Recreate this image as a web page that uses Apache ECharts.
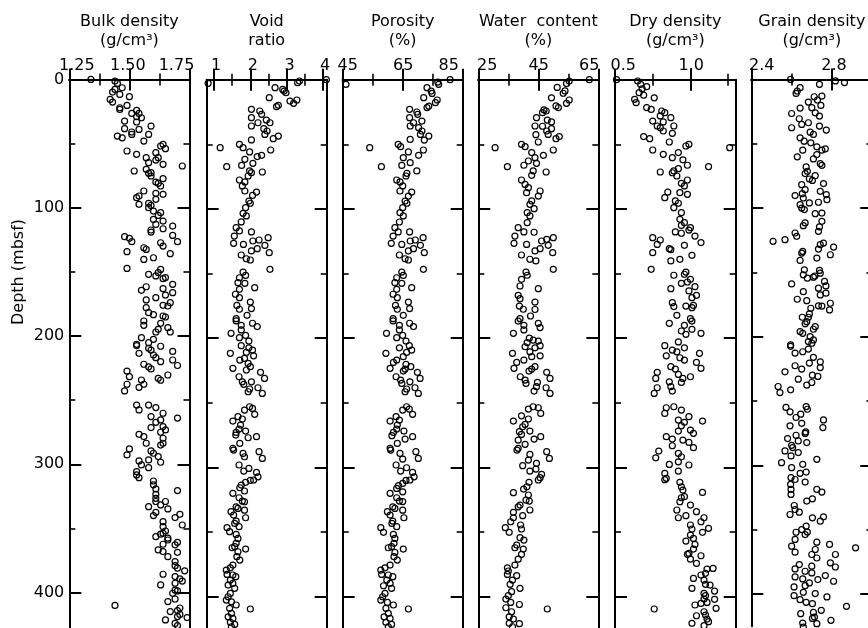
<!DOCTYPE html>
<html>
<head>
<meta charset="utf-8">
<script src="https://cdn.jsdelivr.net/npm/echarts@6/dist/echarts.min.js"></script>
<style>
  html, body { margin: 0; padding: 0; background: #fff; }
  #chart { width: 868px; height: 628px; }
</style>
</head>
<body>
<div id="chart"></div>
<script>
// Each sample: [value, depth (mbsf)]
const bulkDensity = [
  [1.34,0],[1.44,1.3],[1.45,3.1],[1.47,6.5],[1.44,7.8],[1.43,9.9],[1.46,11.7],[1.50,13.5],[1.42,15.6],[1.43,17.7],[1.49,20.3],[1.46,22.1],[1.46,23.4],[1.53,24.2],[1.51,26.5],[1.54,26.5],[1.53,29.1],[1.55,29.9],[1.48,32.5],[1.53,33.2],[1.59,36.4],[1.48,38.4],[1.54,39],[1.51,41],[1.51,42.9],[1.58,42.9],[1.45,44.2],[1.47,45.5],[1.56,48.1],[1.64,50.6],[1.63,51.9],[1.65,54],[1.49,55.8],[1.61,57.1],[1.53,58.4],[1.57,61],[1.62,61],[1.61,62.9],[1.58,64.9],[1.64,66.2],[1.72,67.5],[1.57,70.1],[1.52,71.4],[1.59,72.7],[1.58,73.2],[1.59,75.3],[1.64,77.4],[1.61,80],[1.62,81],[1.63,83.1],[1.56,87],[1.61,88.8],[1.64,89.6],[1.54,90.9],[1.53,92.2],[1.61,93.5],[1.58,96.6],[1.54,97.4],[1.59,98.2],[1.58,100],[1.60,102.6],[1.63,103.9],[1.62,106],[1.60,109.1],[1.64,110.4],[1.61,113],[1.68,114.3],[1.64,116.4],[1.59,117.4],[1.59,119],[1.68,121.6],[1.48,122.6],[1.50,123.9],[1.51,126.5],[1.70,126.5],[1.63,127.3],[1.64,129.9],[1.56,131.2],[1.57,132.5],[1.49,134.3],[1.67,135.8],[1.60,139],[1.56,140.3],[1.49,147.3],[1.63,148.1],[1.62,150.6],[1.58,151.9],[1.61,153.2],[1.65,154.5],[1.64,155.3],[1.68,159.7],[1.57,161.6],[1.64,163.1],[1.55,164.4],[1.68,166.2],[1.65,168.1],[1.61,170.1],[1.57,171.9],[1.67,174],[1.64,176.1],[1.66,176.6],[1.57,177.9],[1.58,181.8],[1.60,183.4],[1.64,184.4],[1.65,185.2],[1.56,188.3],[1.63,190.1],[1.56,191.7],[1.66,193.5],[1.62,194.8],[1.61,196.9],[1.67,196.9],[1.55,201.3],[1.60,202.6],[1.58,205.2],[1.53,206.5],
  [1.53,207.5],[1.58,209.6],[1.59,211],[1.63,208],[1.68,212],[1.54,213.5],[1.60,214.8],[1.61,216.9],[1.63,220],[1.56,222],[1.58,224],[1.59,225.7],[1.68,218.7],[1.70,223],[1.49,227.3],[1.50,231.7],[1.55,234.3],[1.56,237.6],[1.54,240],[1.49,237.6],[1.48,242.8],[1.62,233],[1.63,234.5],[1.66,230.4],[1.53,253.8],[1.54,257.6],[1.58,253.8],[1.61,255.8],[1.64,260.2],[1.59,262.8],[1.70,264],[1.61,267.3],[1.63,265.4],[1.59,271.4],[1.64,270.6],[1.65,273.2],[1.63,275],[1.54,276.6],[1.56,278.4],[1.64,279.7],[1.64,283.6],[1.63,285],[1.57,283.6],[1.50,288],[1.49,292.7],[1.59,289.6],[1.60,291.4],[1.62,294],[1.58,296.6],[1.63,298.4],[1.54,297.4],[1.55,300.5],[1.58,302.6],[1.53,305.7],[1.53,308.3],[1.54,310.4],[1.60,313],[1.60,316],[1.61,319.2],[1.70,320.5],[1.61,323.4],[1.61,326.5],[1.61,329],[1.65,329],[1.63,331.7],[1.58,333],[1.66,334.8],[1.60,340],[1.61,337.4],[1.69,341.5],[1.71,339],[1.72,347.3],[1.64,344.7],[1.64,348.6],[1.65,352],[1.64,353.8],[1.63,354.5],[1.61,356.4],[1.66,359],[1.66,357.6],[1.70,360.8],[1.69,362.8],[1.64,362.3],[1.62,366.7],[1.64,368],[1.70,368.6],[1.66,372],[1.69,375.8],[1.69,379],[1.70,381],[1.73,383],[1.64,385.7],[1.69,387.5],[1.71,389.3],[1.72,391],[1.63,394],[1.69,392.7],[1.69,398],[1.68,400.5],[1.70,398.7],[1.69,405],[1.44,410],[1.66,407],[1.71,412],[1.70,414],[1.67,414.8],[1.71,417],[1.65,421.3],[1.70,418.7],[1.74,419.5],[1.69,424],[1.70,425.7]
];

const voidRatio = [
  [0.84,2.8],[4.09,0],[3.35,1],[3.30,2.3],[2.68,6.2],[2.89,7.5],[2.93,8.8],[2.98,10.1],[2.52,13.9],[3.28,15.7],[3.09,16.5],[3.19,18.3],[2.77,19.8],[2.72,20.9],[2.03,22.9],[2.26,24.2],[2.31,26.8],[2.03,29.4],[2.44,31.2],[2.21,33.3],[2.54,33.3],[2.03,35.8],[2.37,37.9],[2.46,39.7],[2.40,42.3],[2.77,43.6],[2.63,45.6],[2.03,46.6],[1.70,50],[1.80,52.6],[1.17,52.6],[2.56,54.4],[1.98,55.9],[2.31,58.5],[2.19,59.5],[1.85,61.6],[2.07,64.7],[1.76,66.3],[1.35,67.3],[1.98,70.6],[2.33,71.4],[2.03,71.9],[1.94,74.5],[1.70,77.6],[1.85,79.1],[1.78,82.2],[1.85,86.1],[2.17,86.9],[2.06,89.5],[1.96,93.9],[2.00,95.6],[1.87,99],[1.80,103.4],[1.89,105.4],[1.75,110],[1.61,114.5],[1.70,117],[2.03,117.8],[1.56,121],[2.49,122.2],[2.24,124],[2.07,124.8],[1.54,126.6],[1.81,127.4],[2.40,128.2],[2.19,130.7],[2.03,132.5],[2.52,133.8],[1.75,135.6],[1.89,138.5],[2.00,139.5],[2.54,146.7],[1.80,148.8],[1.87,151.4],[1.70,153.2],[1.66,157],[1.85,157.5],[2.12,160.9],[1.70,162.2],[1.59,166],[1.70,168.6],[2.00,172],[1.63,174.6],[2.03,177.1],[1.70,177.6],[1.91,182.3],[1.61,184.9],[1.61,186.6],[2.06,188.4],[1.75,190],[2.19,191],[1.75,193.6],[1.47,196.2],[1.87,197.8],[1.70,199.6],[1.96,202.2],
  [1.75,205.8],[1.96,207.4],[2.06,209.2],[1.45,211.7],[1.89,211],[2.09,213.6],[1.71,216.9],[1.84,215.6],[1.94,219.5],[1.52,223.3],[1.89,224.6],[2.00,222],[2.28,226.4],[2.39,231.1],[1.69,229.8],[1.78,233.7],[1.82,235.7],[2.03,233.7],[2.21,238.3],[1.98,239.3],[1.94,241.4],[2.33,242.7],[1.98,253],[2.06,254.3],[2.12,258.9],[1.84,255.6],[1.52,264.1],[1.66,260.7],[1.78,262.5],[1.73,267.2],[1.61,272.9],[1.60,274.9],[1.87,271.8],[1.69,270.3],[1.94,277],[2.17,276.2],[1.71,281.4],[1.52,285.2],[1.54,286.5],[1.80,289.1],[2.24,287.8],[2.33,293],[1.84,291.7],[1.69,298.1],[1.82,302.8],[1.96,300.7],[2.17,303.8],[2.21,307.2],[2.09,309.7],[2.00,309.9],[1.87,311.5],[1.75,313.6],[1.71,315.7],[1.84,318.2],[1.52,320],[1.69,323.4],[1.78,326],[1.84,326.5],[1.61,330.4],[1.66,331.7],[1.47,334.2],[1.54,336.8],[1.84,333],[1.87,338.9],[1.61,341.5],[1.57,343.3],[1.36,346.6],[1.43,349.7],[1.69,345.8],[1.61,351.8],[1.66,354.9],[1.61,358.7],[1.57,361.3],[1.50,362.1],[1.87,363.1],[1.66,365.2],[1.63,369],[1.71,371.6],[1.52,375.5],[1.45,377.6],[1.34,379.4],[1.36,382.7],[1.52,383.2],[1.60,384.5],[1.45,387.1],[1.52,389.7],[1.39,391],[1.57,393.5],[1.45,397.4],[1.39,400],[1.34,402.6],[1.48,403.9],[1.61,406.4],[2.00,409.5],[1.43,409],[1.48,412.9],[1.39,415.5],[1.52,416.8],[1.45,419.8],[1.57,421.4],[1.48,423.2]
];

const porosity = [
  [46.1,3.6],[80.8,0],[76.7,1.8],[77.0,3.6],[73.1,6.2],[74.5,8.8],[74.8,10.6],[72.0,13.9],[76.5,15.7],[75.9,17.8],[73.7,20.4],[73.1,21.6],[67.3,22.9],[69.7,25],[70.0,26.8],[67.3,29.4],[71.4,32],[68.6,33.3],[67.5,35.8],[70.3,37.1],[71.4,39.7],[70.9,42.3],[73.7,43.6],[67.5,46.2],[72.2,46.7],[63.5,50],[64.3,51.8],[54.0,52.6],[71.9,54.4],[66.9,55.9],[70.3,58.5],[65.2,60.3],[67.5,64.2],[64.7,66.3],[57.9,67.3],[69.7,70.6],[66.4,72.4],[66.1,74.5],[63.0,77.6],[64.1,79.1],[65.0,82.2],[64.1,86.1],[68.0,86.9],[66.9,90],[65.8,93.9],[66.4,95.6],[65.0,99],[64.1,102.9],[65.2,105.4],[63.9,110.1],[62.4,114.5],[63.5,117.8],[67.3,117.8],[61.8,121],[71.8,122.2],[69.2,124],[67.5,124.8],[61.2,126.6],[64.7,127.4],[70.9,128.1],[68.6,130.7],[66.9,132.5],[72.2,133.8],[63.9,135.6],[65.8,138.5],[66.9,139.5],[71.9,146.7],[64.7,148.8],[65.2,151.4],[63.0,153.2],[62.4,157],[64.7,157.5],[68.0,160.9],[63.0,162.2],[61.8,166],[63.2,168.6],[66.9,172],[62.6,174.6],[67.3,177.1],[63.2,177.6],[65.2,182.3],[61.8,184.9],[61.8,186.6],[67.3,188.4],[63.9,190],[68.6,191],[63.9,193.6],[59.6,196.2],[65.0,197.8],[63.0,199.6],[66.1,202.2],
  [63.9,207.4],[67.2,205.8],[68.0,209.2],[59.4,211.7],[65.2,214.3],[66.3,211],[63.0,216.9],[61.9,218.7],[66.1,220.3],[60.8,223.3],[65.8,223.9],[67.7,222],[65.2,225.4],[69.9,226.4],[70.8,231.1],[62.8,229.8],[64.3,232.4],[64.7,235],[67.4,233.7],[69.1,238.3],[66.3,239.3],[65.8,241.4],[70.2,242.7],[66.3,253],[67.2,254.8],[68.3,258.9],[65.0,255.6],[60.8,264.1],[62.8,260.7],[63.9,263.3],[63.2,267.2],[61.9,272.9],[61.4,275.4],[65.4,271.8],[63.0,270.3],[65.8,278],[68.3,276.2],[63.2,281.4],[60.8,285.2],[61.0,286.5],[64.1,289.1],[69.4,287.8],[70.2,293],[65.0,293.5],[62.8,298.1],[64.3,302.8],[66.3,300.2],[68.3,303.8],[68.8,307.2],[67.4,309.7],[66.1,310],[65.0,312.3],[63.6,314.1],[63.0,316.2],[65.0,318.8],[60.8,320],[63.0,323.4],[63.9,326],[65.0,326.4],[61.7,330.4],[62.4,331.7],[59.9,334.2],[60.8,336.8],[65.0,333],[65.4,338.9],[61.7,341.5],[61.4,343.3],[57.7,346.6],[58.6,350.2],[63.0,345.8],[61.9,351.8],[62.4,354.9],[62.1,358.7],[61.3,361.3],[60.2,362.1],[65.2,363.1],[62.4,365.7],[62.1,369],[63.2,371.6],[60.8,375.5],[59.1,377.6],[57.7,379.4],[58.0,382.7],[60.2,383.2],[61.7,384.5],[59.7,387.1],[60.8,389.7],[58.6,391.5],[61.3,393.5],[59.1,397.4],[58.3,400],[57.7,402.6],[59.9,404.4],[61.9,406.4],[66.9,409.5],[59.4,409],[60.2,412.9],[58.8,415.5],[60.8,416.8],[59.4,419.8],[61.3,421.4],[60.2,423.2]
];

const waterContent = [
  [62.0,0],[55.3,1],[54.4,3],[51.3,6],[53.9,8.7],[53.3,10.5],[49.4,14],[55.3,15.7],[54.4,18.3],[50.9,20.3],[51.7,21.6],[46.9,23.4],[47.6,24.2],[46.4,25.5],[44.4,29.4],[48.0,31.2],[49.4,32.7],[43.9,35.8],[46.4,36],[49.4,37.9],[47.8,39.7],[48.3,42.3],[44.2,42.5],[52.0,44],[50.9,45.6],[45.0,48.2],[39.4,50],[40.6,51.8],[30.6,52.6],[50.0,54.4],[42.8,56.4],[46.7,58.5],[43.9,60.3],[41.7,62.9],[44.4,64.7],[40.2,66.2],[34.7,67.3],[43.3,70.6],[47.6,71.4],[42.8,74],[39.4,77.6],[40.6,81],[41.7,83.5],[45.6,86.1],[41.1,87.4],[45.0,90],[42.8,93.8],[42.2,96.4],[43.6,99.8],[41.3,102.9],[42.2,105.4],[41.3,110.6],[38.3,114.5],[40.2,117.8],[43.6,118],[37.2,121],[50.0,122.2],[47.8,123.5],[46.1,124.8],[36.9,126.6],[41.1,127.4],[48.3,128.1],[45.6,130.7],[43.9,132.5],[49.8,133.8],[39.4,135.6],[42.2,138.9],[44.2,140.2],[50.0,146.7],[40.9,148.8],[41.3,151.3],[39.4,154.4],[38.9,159.6],[45.0,161.7],[38.3,166.8],[38.9,169.4],[43.9,172],[38.7,175.1],[40.0,177.6],[43.9,177.8],[42.4,182.8],[38.9,184.9],[38.3,186.7],[45.0,188.5],[40.2,190],[45.6,191.8],[40.2,193.6],[36.7,196.2],[42.0,200],[43.3,201.4],[45.0,202.2],[41.3,203.4],
  [40.6,206.6],[43.9,207.4],[45.6,205.8],[36.4,211.7],[42.2,210.5],[42.8,214.3],[45.6,213.6],[40.2,216.9],[37.8,218.7],[36.9,223.3],[42.8,223.9],[43.9,222],[41.9,225.4],[47.8,226.4],[39.0,229.8],[48.9,231.1],[40.6,232.4],[44.7,234.2],[40.9,235],[44.4,237.5],[47.6,238.3],[43.6,240.9],[48.9,242.7],[43.3,253],[41.7,254.8],[45.0,253.8],[45.8,258.2],[39.4,260],[41.7,262.5],[36.7,264.1],[40.6,266.7],[39.8,268.5],[42.2,271.8],[38.7,272.3],[39.4,274.4],[45.8,276.2],[43.6,278],[38.3,278.8],[40.6,282.1],[38.3,285.2],[37.9,286.5],[47.8,287.8],[42.2,289.9],[48.7,293],[41.7,294.3],[44.4,296.8],[39.8,298.6],[44.2,301.2],[42.2,302.8],[46.1,305.3],[45.6,307.9],[45.0,309.7],[41.9,311.5],[41.2,314.9],[40.1,316.7],[36.7,319.5],[41.7,321.3],[40.9,325.2],[42.0,326],[38.9,329.1],[38.3,330.4],[42.2,332.9],[36.7,334.7],[39.8,337.3],[36.7,338.9],[35.8,342],[39.1,344.5],[34.0,346.6],[39.4,347.6],[35.3,350.2],[38.9,354.3],[40.2,356.2],[37.8,360],[37.2,362.1],[40.0,363.1],[39.4,367.2],[38.3,370.9],[37.2,375.5],[34.7,377.6],[35.0,380.1],[34.7,382.7],[37.8,383.7],[36.4,387.1],[35.6,390.4],[38.9,393.5],[36.1,396.1],[35.0,399.2],[34.2,401.8],[35.8,404.4],[38.7,406],[34.2,408.5],[48.0,409.5],[36.1,411.6],[35.3,415.5],[36.7,417.3],[35.3,420.6],[38.7,420.8],[36.4,423.2]
];

const dryDensity = [
  [0.51,0],[0.65,1],[0.67,3.6],[0.71,5.4],[0.68,7],[0.66,10],[0.69,12],[0.76,14],[0.63,15.2],[0.64,17.8],[0.71,21.6],[0.74,23],[0.81,24.2],[0.83,25.5],[0.80,28],[0.87,29.4],[0.75,32],[0.82,32.7],[0.78,35.8],[0.89,35.8],[0.80,37.1],[0.82,39.7],[0.88,41.5],[0.69,44],[0.73,45.6],[0.86,48.2],[0.99,50],[0.97,51.3],[1.26,52.6],[0.75,54.4],[0.92,56.4],[0.82,57.7],[0.88,60.3],[0.95,62],[0.98,66.2],[1.12,67.3],[0.92,68.8],[0.89,70.6],[0.80,71.4],[0.88,72],[0.91,74.5],[0.98,77.6],[0.94,80.2],[0.96,82.2],[0.85,86.9],[0.93,87.4],[0.98,88.7],[0.83,91.3],[0.90,93.8],[0.92,95.6],[0.89,99],[0.94,102.9],[0.93,108],[0.96,110.6],[0.94,112.7],[1.00,114.5],[0.99,116.3],[0.90,117.8],[0.94,118.8],[1.03,121],[0.75,122.2],[0.80,124],[1.07,126],[0.78,127.4],[0.96,128.1],[0.86,130.7],[0.87,131.5],[0.75,133.8],[1.01,135.9],[0.93,139],[0.87,140.2],[0.74,146.7],[0.97,148.8],[0.96,150.5],[0.89,151.3],[1.00,154.4],[0.98,156.5],[0.94,157.5],[1.03,160.1],[0.87,161.7],[0.99,163.4],[1.04,166.8],[1.01,168.6],[0.88,172.5],[1.02,174.6],[0.97,175.1],[0.89,175.5],[1.01,176.4],[0.91,182.3],[1.00,184.9],[1.01,186.7],[0.86,188.5],[0.96,190],[1.01,193.1],[0.94,194.4],[1.07,196.2],[0.97,197],[0.92,202.9],
  [0.83,205.8],[0.88,209.2],[0.91,210.5],[0.96,207.4],[1.06,211.7],[0.84,213.6],[0.93,215.1],[0.96,216.9],[1.04,218.7],[1.07,223.3],[0.87,222],[0.90,223.9],[0.92,228],[0.78,226.4],[0.77,231.1],[0.95,231.1],[1.00,229.8],[0.86,233.7],[0.87,237.5],[0.88,240.9],[0.78,238.3],[0.76,242.7],[0.94,234.2],[0.84,253.8],[0.89,253],[0.94,255.6],[0.83,258.2],[0.99,260.7],[0.92,263.3],[1.08,264.1],[0.96,265.1],[0.94,267.7],[1.00,271.1],[0.92,271.8],[1.02,273.6],[0.84,276.2],[0.88,278],[0.95,278.8],[0.99,280.6],[0.88,283.2],[1.02,284.7],[0.79,287.3],[0.77,292.5],[0.92,289.1],[0.94,291.7],[0.92,295.6],[0.99,298.1],[0.86,297.6],[0.92,302.8],[0.83,304.6],[0.84,308.4],[0.83,309.5],[0.93,311.5],[0.94,314.9],[0.95,317.5],[1.08,319.3],[0.94,323.4],[0.96,322.6],[0.93,326.5],[1.00,329.1],[0.91,332.9],[0.97,337.3],[0.92,338.9],[1.04,334.2],[1.09,338.9],[1.07,342],[1.12,347.1],[1.08,350.2],[1.00,344.5],[1.01,347.6],[1.00,352.3],[1.02,354.9],[0.97,356.9],[1.03,359.5],[1.02,363.1],[1.07,368.3],[0.98,367.2],[1.00,370.9],[0.99,366.5],[1.04,374.2],[1.11,378.6],[1.15,378.1],[1.10,381.9],[1.02,385.8],[1.07,383.2],[1.09,387.1],[1.10,390.4],[1.13,391],[1.01,393.5],[1.16,395.6],[1.09,397.4],[1.10,399.2],[1.09,401.8],[1.16,402],[1.11,404.4],[1.07,405.2],[1.03,406.4],[1.17,409],[0.76,409.5],[1.09,411.6],[1.10,414.2],[1.04,414.7],[1.11,417.3],[1.12,419.3],[1.01,420.6],[1.09,422.4]
];

const grainDensity = [
  [2.595,0],[2.738,3.8],[2.817,1.2],[2.862,2.5],[2.642,6.4],[2.628,9],[2.622,10.9],[2.712,13.5],[2.750,13],[2.728,16],[2.745,20.2],[2.683,17.6],[2.700,22],[2.642,22.3],[2.600,26.5],[2.717,26],[2.738,28.5],[2.638,30.6],[2.650,35],[2.683,33.7],[2.738,36.3],[2.600,37.6],[2.772,39.4],[2.692,41],[2.708,42.8],[2.642,45.4],[2.662,48],[2.695,49.3],[2.725,52.4],[2.767,54],[2.750,55],[2.655,55],[2.628,60.2],[2.725,58.4],[2.708,61.8],[2.742,65.4],[2.750,66.8],[2.672,68],[2.678,71.4],[2.667,73.2],[2.717,74.8],[2.688,77.4],[2.703,78.5],[2.758,81],[2.650,81.8],[2.667,85.7],[2.742,87],[2.617,90.3],[2.653,88.8],[2.658,92.2],[2.772,89.5],[2.775,93.5],[2.733,95.5],[2.688,96],[2.642,97.4],[2.650,100],[2.663,101.2],[2.717,104.4],[2.750,103.9],[2.667,111.6],[2.658,113.7],[2.750,110.3],[2.738,114.7],[2.733,118.1],[2.617,119.4],[2.625,122],[2.508,125.9],[2.567,124.6],[2.758,127.2],[2.808,130.3],[2.742,128.5],[2.733,131.9],[2.792,136.3],[2.725,138.9],[2.655,133.7],[2.650,135],[2.642,140.7],[2.663,148],[2.658,151.9],[2.738,148.5],[2.742,150.6],[2.678,154.5],[2.708,153.7],[2.715,152.8],[2.600,159],[2.763,157],[2.770,160.5],[2.733,162.3],[2.742,167.5],[2.658,165],[2.770,166.2],[2.628,170.9],[2.675,172],[2.733,176],[2.750,176.2],[2.792,174],[2.788,179.2],[2.695,177.9],[2.688,182.3],[2.683,184.9],[2.653,184.9],[2.675,188.3],[2.667,190],[2.717,192.2],[2.708,194.2],[2.642,196],[2.655,197.4],[2.692,200],[2.683,203.8],[2.708,202.5],[2.595,206.4],[2.700,205.1],
  [2.595,207.5],[2.683,209.6],[2.655,211.7],[2.617,212.7],[2.708,216],[2.742,219.5],[2.742,224],[2.688,220.5],[2.617,222.6],[2.650,225.2],[2.567,227.3],[2.633,233],[2.703,229.9],[2.730,230.9],[2.700,235.6],[2.675,237.6],[2.533,238.7],[2.542,243.4],[2.595,241.3],[2.572,255],[2.672,254.3],[2.678,256.4],[2.592,258.4],[2.645,260.2],[2.622,262.8],[2.758,264.7],[2.755,270.6],[2.650,267.3],[2.592,269.3],[2.670,274],[2.667,275.2],[2.622,276.6],[2.580,279.2],[2.633,281],[2.675,282.3],[2.600,284.4],[2.605,286.2],[2.567,288.8],[2.633,290.1],[2.597,292.7],[2.725,295.3],[2.550,297.9],[2.655,299.2],[2.600,301.8],[2.597,309.6],[2.642,306.2],[2.672,305.2],[2.667,313],[2.595,314.8],[2.617,311],[2.597,318.7],[2.597,322.6],[2.725,318.7],[2.750,320.8],[2.675,327.8],[2.703,326],[2.613,331.2],[2.617,334.3],[2.638,336.4],[2.592,338.2],[2.703,340.8],[2.742,343.4],[2.758,340],[2.672,347.3],[2.650,349.9],[2.678,351.9],[2.622,352],[2.667,353.8],[2.617,357.6],[2.725,359.7],[2.788,361.5],[2.917,364.1],[2.600,362.8],[2.617,367.5],[2.717,365.4],[2.700,369.3],[2.725,372],[2.817,369.3],[2.792,375.8],[2.817,379],[2.638,377.1],[2.617,380.5],[2.700,378.4],[2.667,382.3],[2.700,383.6],[2.617,386.7],[2.655,388.3],[2.767,385.7],[2.730,388.8],[2.688,391.4],[2.808,390.1],[2.612,394.5],[2.667,393.5],[2.658,398.7],[2.612,401.3],[2.642,404.4],[2.717,399.7],[2.775,402.3],[2.672,406.5],[2.703,407.5],[2.872,409.6],[2.747,412.7],[2.645,415.3],[2.708,414.3],[2.713,417.9],[2.703,419],[2.795,420.5],[2.655,422.6],[2.725,423.1],[2.658,425.7]
];

// Axis tick values and tick labels
const depthMajor = [0, 100, 200, 300, 400];
const depthMinor = [50, 150, 250, 350];
const depthLabels = ['0', '100', '200', '300', '400'];

const bulkMajor = [1.25, 1.5, 1.75], bulkMinor = [1.375, 1.625], bulkLabels = ['1.25', '1.50', '1.75'];
const voidMajor = [1, 2, 3, 4], voidMinor = [1.5, 2.5, 3.5], voidLabels = ['1', '2', '3', '4'];
const poroMajor = [45, 65, 85], poroMinor = [55, 75], poroLabels = ['45', '65', '85'];
const waterMajor = [25, 45, 65], waterMinor = [35, 55], waterLabels = ['25', '45', '65'];
const dryMajor = [0.5, 1.0], dryMinor = [0.75, 1.25], dryLabels = ['0.5', '1.0'];
const grainMajor = [2.4, 2.8], grainMinor = [2.6, 3.0], grainLabels = ['2.4', '2.8'];

const FONT = '"DejaVu Sans", "Liberation Sans", Arial, sans-serif';
const FONT_SIZE = 16;
const INK = '#000';

// Panel layout: left edge / width in px, depth scale in px per metre
const panels = [
  { title: 'Bulk density\n(g/cm³)', data: bulkDensity, min: 1.25, max: 1.75, major: bulkMajor, minor: bulkMinor, labels: bulkLabels, shift: [7.5, -1.5, -13],
    left: 69.3, width: 120.2, top: 79.4, pxPerM: 1.283, depthMax: 430 },
  { title: 'Void\nratio', data: voidRatio, min: 0.8, max: 4.1, major: voidMajor, minor: voidMinor, labels: voidLabels, shift: [2, 2.5, 3, 2],
    left: 206.7, width: 120, top: 79.7, pxPerM: 1.2926, depthMax: 430 },
  { title: 'Porosity\n(%)', data: porosity, min: 45, max: 85, major: poroMajor, minor: poroMinor, labels: poroLabels, shift: [5, 0.5, -14],
    left: 342.7, width: 120, top: 79.7, pxPerM: 1.2926, depthMax: 430 },
  { title: 'Water  content\n(%)', data: waterContent, min: 25, max: 65, major: waterMajor, minor: waterMinor, labels: waterLabels, shift: [9, 0.5, -9],
    left: 478.3, width: 120, top: 79.7, pxPerM: 1.2926, depthMax: 430 },
  { title: 'Dry density\n(g/cm³)', data: dryDensity, min: 0.5, max: 1.3, major: dryMajor, minor: dryMinor, labels: dryLabels, shift: [8.3, 0.8],
    left: 615, width: 120.7, top: 79.7, pxPerM: 1.2926, depthMax: 430 },
  { title: 'Grain density\n(g/cm³)', data: grainDensity, min: 2.4, max: 3.0, major: grainMajor, minor: grainMinor, labels: grainLabels, shift: [10.4, 2],
    left: 751.3, width: 121, top: 79.4, pxPerM: 1.2865, depthMax: 425 }
];

const frameLine = { show: true, lineStyle: { color: INK, width: 2 } };
const majorTick = (values, len) => ({ show: true, inside: true, length: len, customValues: values, lineStyle: { color: INK, width: 2 } });
const minorTick = (values, len) => ({ show: true, inside: true, length: len, customValues: values, lineStyle: { color: INK, width: 1.6 } });

const grids = [], xAxes = [], yAxes = [], series = [];

panels.forEach((p, gi) => {
  grids.push({ left: p.left, top: p.top, width: p.width, height: p.depthMax * p.pxPerM, outerBoundsMode: 'none', containLabel: false });

  // tick label rich styles: horizontal nudge per label
  const rich = {};
  p.shift.forEach((dx, k) => {
    rich['t' + k] = {
      fontSize: FONT_SIZE, fontFamily: FONT, color: INK,
      padding: dx >= 0 ? [0, 0, 0, 2 * dx] : [0, -2 * dx, 0, 0]
    };
  });

  const xBase = { gridIndex: gi, type: 'value', min: p.min, max: p.max, splitLine: { show: false } };
  const xi = xAxes.length;
  xAxes.push(Object.assign({}, xBase, {
    position: 'top', axisLine: frameLine, axisTick: majorTick(p.major, 11),
    axisLabel: {
      show: true, customValues: p.major, margin: 6, showMinLabel: true, showMaxLabel: true,
      formatter: (v) => {
        let k = 0, best = Infinity;
        p.major.forEach((m, j) => { const d = Math.abs(m - v); if (d < best) { best = d; k = j; } });
        return '{t' + k + '|' + p.labels[k] + '}';
      },
      rich
    },
    name: p.title, nameLocation: 'middle', nameGap: 29,
    nameTextStyle: { fontSize: FONT_SIZE, lineHeight: 19, fontFamily: FONT, color: INK, align: 'center' }
  }));
  xAxes.push(Object.assign({}, xBase, { position: 'top', axisLine: { show: false }, axisTick: minorTick(p.minor, 6), axisLabel: { show: false } }));
  xAxes.push(Object.assign({}, xBase, { position: 'bottom', axisLine: frameLine, axisTick: majorTick(p.major, 11), axisLabel: { show: false } }));
  xAxes.push(Object.assign({}, xBase, { position: 'bottom', axisLine: { show: false }, axisTick: minorTick(p.minor, 6), axisLabel: { show: false } }));

  const yBase = { gridIndex: gi, type: 'value', inverse: true, min: 0, max: p.depthMax, splitLine: { show: false } };
  const yi = yAxes.length;
  yAxes.push(Object.assign({}, yBase, {
    position: 'left', axisLine: frameLine, axisTick: majorTick(depthMajor, 12),
    axisLabel: gi === 0 ? {
      show: true, customValues: depthMajor, margin: 5, showMinLabel: true, showMaxLabel: true,
      fontSize: FONT_SIZE, fontFamily: FONT, color: INK,
      formatter: (v) => depthLabels[depthMajor.indexOf(v)] ?? String(v)
    } : { show: false }
  }));
  yAxes.push(Object.assign({}, yBase, { position: 'left', axisLine: { show: false }, axisTick: minorTick(depthMinor, 6), axisLabel: { show: false } }));
  yAxes.push(Object.assign({}, yBase, { position: 'right', axisLine: frameLine, axisTick: majorTick(depthMajor, 12), axisLabel: { show: false } }));
  yAxes.push(Object.assign({}, yBase, { position: 'right', axisLine: { show: false }, axisTick: minorTick(depthMinor, 6), axisLabel: { show: false } }));

  series.push({
    type: 'scatter', xAxisIndex: xi, yAxisIndex: yi, data: p.data, clip: false,
    symbol: 'circle', symbolSize: 6,
    itemStyle: { color: 'rgba(0,0,0,0)', borderColor: INK, borderWidth: 1.2, opacity: 1 },
    emphasis: { disabled: true }, silent: true, z: 3
  });
});

const chart = echarts.init(document.getElementById('chart'), null, { renderer: 'canvas' });
chart.setOption({
  animation: false,
  backgroundColor: '#fff',
  grid: grids,
  xAxis: xAxes,
  yAxis: yAxes,
  series,
  graphic: [{
    type: 'text', x: 19, y: 272, rotation: Math.PI / 2,
    style: { text: 'Depth (mbsf)', fontSize: FONT_SIZE, fontFamily: FONT, fill: INK, align: 'center', verticalAlign: 'middle' }
  }]
});
</script>
</body>
</html>
